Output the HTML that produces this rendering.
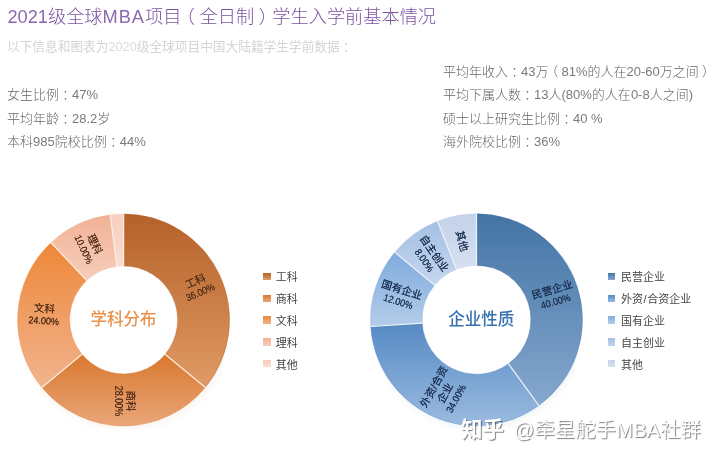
<!DOCTYPE html>
<html lang="zh"><head><meta charset="utf-8"><title>全球MBA项目学生入学前基本情况</title>
<style>
html,body{margin:0;padding:0;background:#fff}
body{width:720px;height:461px;position:relative;overflow:hidden;font-family:"Liberation Sans","Noto Sans CJK SC",sans-serif}
.t{position:absolute;white-space:nowrap;line-height:1}
.p{display:inline-block;width:1em;text-align:center;font-feature-settings:"halt"}
#title{left:7.5px;top:7.5px;font-size:18.2px;color:#7a52a0;font-family:"Liberation Sans","Noto Sans CJK SC",sans-serif;font-weight:300}
#sub{left:7px;top:41px;font-size:12.7px;color:#d4d4d4;font-family:"Liberation Sans","Noto Sans CJK SC",sans-serif}
.s{font-size:13px;color:#666;font-family:"Liberation Sans","Noto Sans CJK SC",sans-serif;font-weight:300}
.s .a{color:#7b7b7b}
#title .a{color:#8c68ae}
#sub .a{color:#d9d9d9}
svg{position:absolute;left:0;top:0}
.lab{position:absolute;white-space:nowrap;text-align:center;font-family:"Liberation Sans","Noto Sans CJK SC",sans-serif}
.lab{text-shadow:0 0 .3px currentColor}
.lab .n{display:inline-block;font-size:10px;line-height:12.8px;vertical-align:top;transform:scaleX(.9)}
.ctr{position:absolute;white-space:nowrap;font-size:16.5px;font-weight:500;line-height:1;font-family:"Liberation Sans","Noto Sans CJK SC",sans-serif;transform:translate(-50%,-50%)}
.sq{position:absolute;width:7.8px;height:7.5px}
.lt{position:absolute;white-space:nowrap;font-size:11px;line-height:16px;color:#444;font-family:"Liberation Sans","Noto Sans CJK SC",sans-serif}
#wm{position:absolute;left:461px;top:417px;white-space:nowrap;color:#fff;font-size:20.4px;line-height:26px;font-family:"Liberation Sans","Noto Sans CJK SC",sans-serif;font-weight:350;text-shadow:1px 1px .9px rgba(0,0,0,.5)}
#wm b{font-weight:700;font-size:21.6px;margin-right:9.5px}
</style></head><body>
<div class="t" id="title"><span class="a">2021</span>级全球<span class="a" style="letter-spacing:1px">MBA</span>项目<span class="p">（</span>全日制<span class="p">）</span>学生入学前基本情况</div>
<div class="t" id="sub">以下信息和图表为<span class="a">2020</span>级全球项目中国大陆籍学生学前数据<span class="p">：</span></div>
<div class="t s" style="left:7px;top:88px">女生比例<span class="p">：</span><span class="a">47%</span></div>
<div class="t s" style="left:7px;top:111.5px">平均年龄<span class="p">：</span><span class="a">28.2</span>岁</div>
<div class="t s" style="left:7px;top:135px">本科<span class="a">985</span>院校比例<span class="p">：</span><span class="a">44%</span></div>
<div class="t s" style="left:443px;top:65px">平均年收入<span class="p">：</span><span class="a">43</span>万<span class="p">（</span><span class="a">81%</span>的人在<span class="a">20-60</span>万之间<span class="p">）</span></div>
<div class="t s" style="left:443px;top:88px">平均下属人数<span class="p">：</span><span class="a">13</span>人<span class="a">(80%</span>的人在<span class="a">0-8</span>人之间<span class="a">)</span></div>
<div class="t s" style="left:443px;top:111.5px">硕士以上研究生比例<span class="p">：</span><span class="a">40 %</span></div>
<div class="t s" style="left:443px;top:134.5px">海外院校比例<span class="p">：</span><span class="a">36%</span></div>
<svg width="720" height="461" viewBox="0 0 720 461">
<defs>
<linearGradient id="lg0" x1="0" y1="0" x2="0" y2="1"><stop offset="0" stop-color="#b56129"/><stop offset="1" stop-color="#e09a64"/></linearGradient><linearGradient id="lg1" x1="0" y1="0" x2="0" y2="1"><stop offset="0" stop-color="#d9782f"/><stop offset="1" stop-color="#eaa679"/></linearGradient><linearGradient id="lg2" x1="0" y1="0" x2="0" y2="1"><stop offset="0" stop-color="#ed8738"/><stop offset="1" stop-color="#f2b48e"/></linearGradient><linearGradient id="lg3" x1="0" y1="0" x2="0" y2="1"><stop offset="0" stop-color="#f2b296"/><stop offset="1" stop-color="#f6cdbb"/></linearGradient><linearGradient id="lg4" x1="0" y1="0" x2="0" y2="1"><stop offset="0" stop-color="#f6cfc0"/><stop offset="1" stop-color="#f9ddd3"/></linearGradient>
<linearGradient id="rg0" x1="0" y1="0" x2="0" y2="1"><stop offset="0" stop-color="#4374a5"/><stop offset="1" stop-color="#86a8ce"/></linearGradient><linearGradient id="rg1" x1="0" y1="0" x2="0" y2="1"><stop offset="0" stop-color="#568ac4"/><stop offset="1" stop-color="#9bbbe0"/></linearGradient><linearGradient id="rg2" x1="0" y1="0" x2="0" y2="1"><stop offset="0" stop-color="#7fabdc"/><stop offset="1" stop-color="#b3cdea"/></linearGradient><linearGradient id="rg3" x1="0" y1="0" x2="0" y2="1"><stop offset="0" stop-color="#a4c0e4"/><stop offset="1" stop-color="#c5d6ee"/></linearGradient><linearGradient id="rg4" x1="0" y1="0" x2="0" y2="1"><stop offset="0" stop-color="#c3d2ea"/><stop offset="1" stop-color="#d6e0f1"/></linearGradient>
<filter id="sh" x="-10%" y="-10%" width="120%" height="125%"><feGaussianBlur stdDeviation="3"/></filter>
</defs>
<g id="lsh" opacity=".08" filter="url(#sh)"><circle cx="125.6" cy="323.9" r="80.0" fill="none" stroke="#c88050" stroke-width="52"/></g>
<g id="rsh" opacity=".08" filter="url(#sh)"><circle cx="478.5" cy="323.8" r="80.2" fill="none" stroke="#6088b8" stroke-width="51.6"/></g>
<circle cx="123.6" cy="319.9" r="54" fill="#fff"/><circle cx="476.5" cy="319.8" r="54.4" fill="#fff"/>
<g id="ldonut"><path d="M123.60,213.90 A106,106 0 0 1 205.27,387.47 L165.21,354.32 A54,54 0 0 0 123.60,265.90 Z" fill="url(#lg0)" stroke="#b56129" stroke-opacity=".55" stroke-width=".7"/><path d="M205.27,387.47 A106,106 0 0 1 41.93,387.47 L81.99,354.32 A54,54 0 0 0 165.21,354.32 Z" fill="url(#lg1)" stroke="#d9782f" stroke-opacity=".55" stroke-width=".7"/><path d="M41.93,387.47 A106,106 0 0 1 51.04,242.63 L86.63,280.54 A54,54 0 0 0 81.99,354.32 Z" fill="url(#lg2)" stroke="#ed8738" stroke-opacity=".55" stroke-width=".7"/><path d="M51.04,242.63 A106,106 0 0 1 110.31,214.74 L116.83,266.33 A54,54 0 0 0 86.63,280.54 Z" fill="url(#lg3)" stroke="#f2b296" stroke-opacity=".55" stroke-width=".7"/><path d="M110.31,214.74 A106,106 0 0 1 123.60,213.90 L123.60,265.90 A54,54 0 0 0 116.83,266.33 Z" fill="url(#lg4)" stroke="#f6cfc0" stroke-opacity=".55" stroke-width=".7"/><line x1="123.60" y1="266.40" x2="123.60" y2="213.40" stroke="#fdeee2" stroke-width="1.2"/><line x1="164.82" y1="354.00" x2="205.66" y2="387.79" stroke="#fdeee2" stroke-width="1.2"/><line x1="82.38" y1="354.00" x2="41.54" y2="387.79" stroke="#fdeee2" stroke-width="1.2"/><line x1="86.98" y1="280.90" x2="50.70" y2="242.26" stroke="#fdeee2" stroke-width="1.2"/><line x1="116.89" y1="266.82" x2="110.25" y2="214.24" stroke="#fdeee2" stroke-width="1.2"/></g>
<g id="rdonut"><path d="M476.50,213.80 A106,106 0 0 1 538.81,405.56 L508.48,363.81 A54.4,54.4 0 0 0 476.50,265.40 Z" fill="url(#rg0)" stroke="#4374a5" stroke-opacity=".55" stroke-width=".7"/><path d="M538.81,405.56 A106,106 0 0 1 370.71,326.46 L422.21,323.22 A54.4,54.4 0 0 0 508.48,363.81 Z" fill="url(#rg1)" stroke="#568ac4" stroke-opacity=".55" stroke-width=".7"/><path d="M370.71,326.46 A106,106 0 0 1 394.83,252.23 L434.58,285.12 A54.4,54.4 0 0 0 422.21,323.22 Z" fill="url(#rg2)" stroke="#7fabdc" stroke-opacity=".55" stroke-width=".7"/><path d="M394.83,252.23 A106,106 0 0 1 437.48,221.24 L456.47,269.22 A54.4,54.4 0 0 0 434.58,285.12 Z" fill="url(#rg3)" stroke="#a4c0e4" stroke-opacity=".55" stroke-width=".7"/><path d="M437.48,221.24 A106,106 0 0 1 476.50,213.80 L476.50,265.40 A54.4,54.4 0 0 0 456.47,269.22 Z" fill="url(#rg4)" stroke="#c3d2ea" stroke-opacity=".55" stroke-width=".7"/><line x1="476.50" y1="265.90" x2="476.50" y2="213.30" stroke="#eef3fa" stroke-width="1.2"/><line x1="508.18" y1="363.41" x2="539.10" y2="405.96" stroke="#eef3fa" stroke-width="1.2"/><line x1="422.71" y1="323.18" x2="370.21" y2="326.49" stroke="#eef3fa" stroke-width="1.2"/><line x1="434.97" y1="285.44" x2="394.44" y2="251.91" stroke="#eef3fa" stroke-width="1.2"/><line x1="456.66" y1="269.69" x2="437.29" y2="220.78" stroke="#eef3fa" stroke-width="1.2"/></g>
</svg>
<div class="ctr" style="left:123.6px;top:318.6px;color:#e8924e">学科分布</div>
<div class="ctr" style="left:481.3px;top:319.4px;color:#3672b0">企业性质</div>
<div class="lab" style="left:198.1px;top:286.7px;font-size:10.5px;line-height:12.8px;color:#52301a;transform:translate(-50%,-50%) rotate(-23.5deg)"><div style="height:12.8px">工科</div><div style="height:12.8px"><span class="n">36.00%</span></div></div><div class="lab" style="left:124.0px;top:400.9px;font-size:10.5px;line-height:12.8px;color:#52301a;transform:translate(-50%,-50%) rotate(90.0deg)"><div style="height:12.8px">商科</div><div style="height:12.8px"><span class="n">28.00%</span></div></div><div class="lab" style="left:43.5px;top:314.9px;font-size:10.5px;line-height:12.8px;color:#52301a;transform:translate(-50%,-50%) rotate(3.6deg)"><div style="height:12.8px">文科</div><div style="height:12.8px"><span class="n">24.00%</span></div></div><div class="lab" style="left:89.4px;top:247.2px;font-size:10.5px;line-height:12.8px;color:#52301a;transform:translate(-50%,-50%) rotate(64.8deg)"><div style="height:12.8px">理科</div><div style="height:12.8px"><span class="n">10.00%</span></div></div><div class="lab" style="left:553.7px;top:296.0px;font-size:10.5px;line-height:12.8px;color:#1d3152;transform:translate(-50%,-50%) rotate(-16.5deg)"><div style="height:12.8px">民营企业</div><div style="height:12.8px"><span class="n">40.00%</span></div></div><div class="lab" style="left:444.5px;top:392.5px;font-size:10.5px;line-height:12.8px;color:#1d3152;transform:translate(-50%,-50%) rotate(-61.0deg)"><div style="height:12.8px">外资/合资</div><div style="height:12.8px">企业</div><div style="height:12.8px"><span class="n">34.00%</span></div></div><div class="lab" style="left:400.1px;top:296.0px;font-size:10.5px;line-height:12.8px;color:#1d3152;transform:translate(-50%,-50%) rotate(17.5deg)"><div style="height:12.8px">国有企业</div><div style="height:12.8px"><span class="n">12.00%</span></div></div><div class="lab" style="left:429.3px;top:256.5px;font-size:10.5px;line-height:12.8px;color:#1d3152;transform:translate(-50%,-50%) rotate(55.0deg)"><div style="height:12.8px">自主创业</div><div style="height:12.8px"><span class="n">8.00%</span></div></div><div class="lab" style="left:461.5px;top:240.9px;font-size:10.5px;line-height:12.8px;color:#1d3152;transform:translate(-50%,-50%) rotate(75.0deg)"><div style="height:12.8px">其他</div></div>
<div class="sq" style="left:263.3px;top:272.7px;background:linear-gradient(#b56129,#e09a64)"></div><div class="lt" style="left:275.8px;top:269.4px">工科</div><div class="sq" style="left:263.3px;top:294.5px;background:linear-gradient(#d9782f,#eaa679)"></div><div class="lt" style="left:275.8px;top:291.2px">商科</div><div class="sq" style="left:263.3px;top:316.3px;background:linear-gradient(#ed8738,#f2b48e)"></div><div class="lt" style="left:275.8px;top:313.0px">文科</div><div class="sq" style="left:263.3px;top:338.1px;background:linear-gradient(#f2b296,#f6cdbb)"></div><div class="lt" style="left:275.8px;top:334.8px">理科</div><div class="sq" style="left:263.3px;top:359.9px;background:linear-gradient(#f6cfc0,#f9ddd3)"></div><div class="lt" style="left:275.8px;top:356.6px">其他</div><div class="sq" style="left:607.5px;top:272.7px;background:linear-gradient(#4374a5,#86a8ce)"></div><div class="lt" style="left:621px;top:269.4px">民营企业</div><div class="sq" style="left:607.5px;top:294.5px;background:linear-gradient(#568ac4,#9bbbe0)"></div><div class="lt" style="left:621px;top:291.2px">外资<span style="padding:0 .6px">/</span>合资企业</div><div class="sq" style="left:607.5px;top:316.3px;background:linear-gradient(#7fabdc,#b3cdea)"></div><div class="lt" style="left:621px;top:313.0px">国有企业</div><div class="sq" style="left:607.5px;top:338.1px;background:linear-gradient(#a4c0e4,#c5d6ee)"></div><div class="lt" style="left:621px;top:334.8px">自主创业</div><div class="sq" style="left:607.5px;top:359.9px;background:linear-gradient(#c3d2ea,#d6e0f1)"></div><div class="lt" style="left:621px;top:356.6px">其他</div>
<div id="wm"><b>知乎</b>@牵星舵手MBA社群</div>
</body></html>
